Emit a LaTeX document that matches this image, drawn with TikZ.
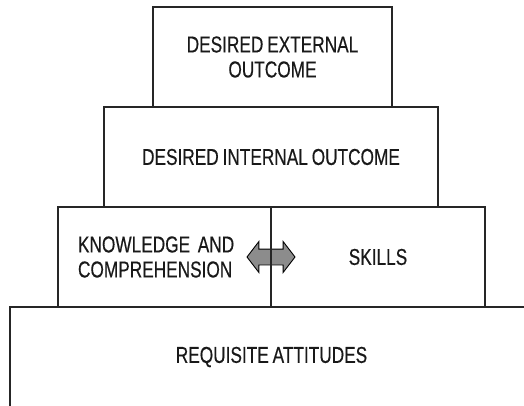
\documentclass[tikz,border=0pt]{standalone}
\usepackage{fontspec}
\newfontfamily\tiersans{Liberation Sans}[FakeStretch=0.75,FakeBold=0.4,WordSpace=0.8]
\usetikzlibrary{shapes,arrows,positioning,backgrounds}
\tikzset{tier/.style={draw=black!85,line width=1.1pt,outer sep=0pt,inner sep=0pt,minimum height=100pt,align=center,text=black!90,font=\tiersans\fontsize{23}{25}\selectfont}}
\tikzset{link/.style={double arrow,draw=black,line width=0.9pt,fill=black!45,inner sep=0pt,text height=7.5pt,text depth=7.5pt,minimum height=48pt,double arrow head extend=7.5pt,double arrow tip angle=105}}

\begin{document}
\begin{tikzpicture}[x=1pt,y=-1pt]
    \useasboundingbox (0,0) rectangle (524,406);
    \clip (0,0) rectangle (524,406);

    \node[tier,minimum width=334pt] (int) at (271,157) {DESIRED INTERNAL OUTCOME};
    \node[tier,minimum width=239pt,above=0pt of int,xshift=1.5pt] (ext) {DESIRED EXTERNAL\\OUTCOME};

    \node[tier,anchor=north east,align=left,text width=173pt,inner xsep=20pt] (know) at (int.south) {KNOWLEDGE AND\\COMPREHENSION};
    \node[tier,anchor=north west,minimum width=214pt] (skills) at (int.south) {SKILLS};

    \node[tier,anchor=north west,minimum width=523pt,xshift=-48pt] (base) at (know.south west) {REQUISITE ATTITUDES};

    % arrow sits behind the divider line
    \begin{scope}[on background layer]
        \node[link] (swap) at (know.east) {};
    \end{scope}
\end{tikzpicture}
\end{document}
